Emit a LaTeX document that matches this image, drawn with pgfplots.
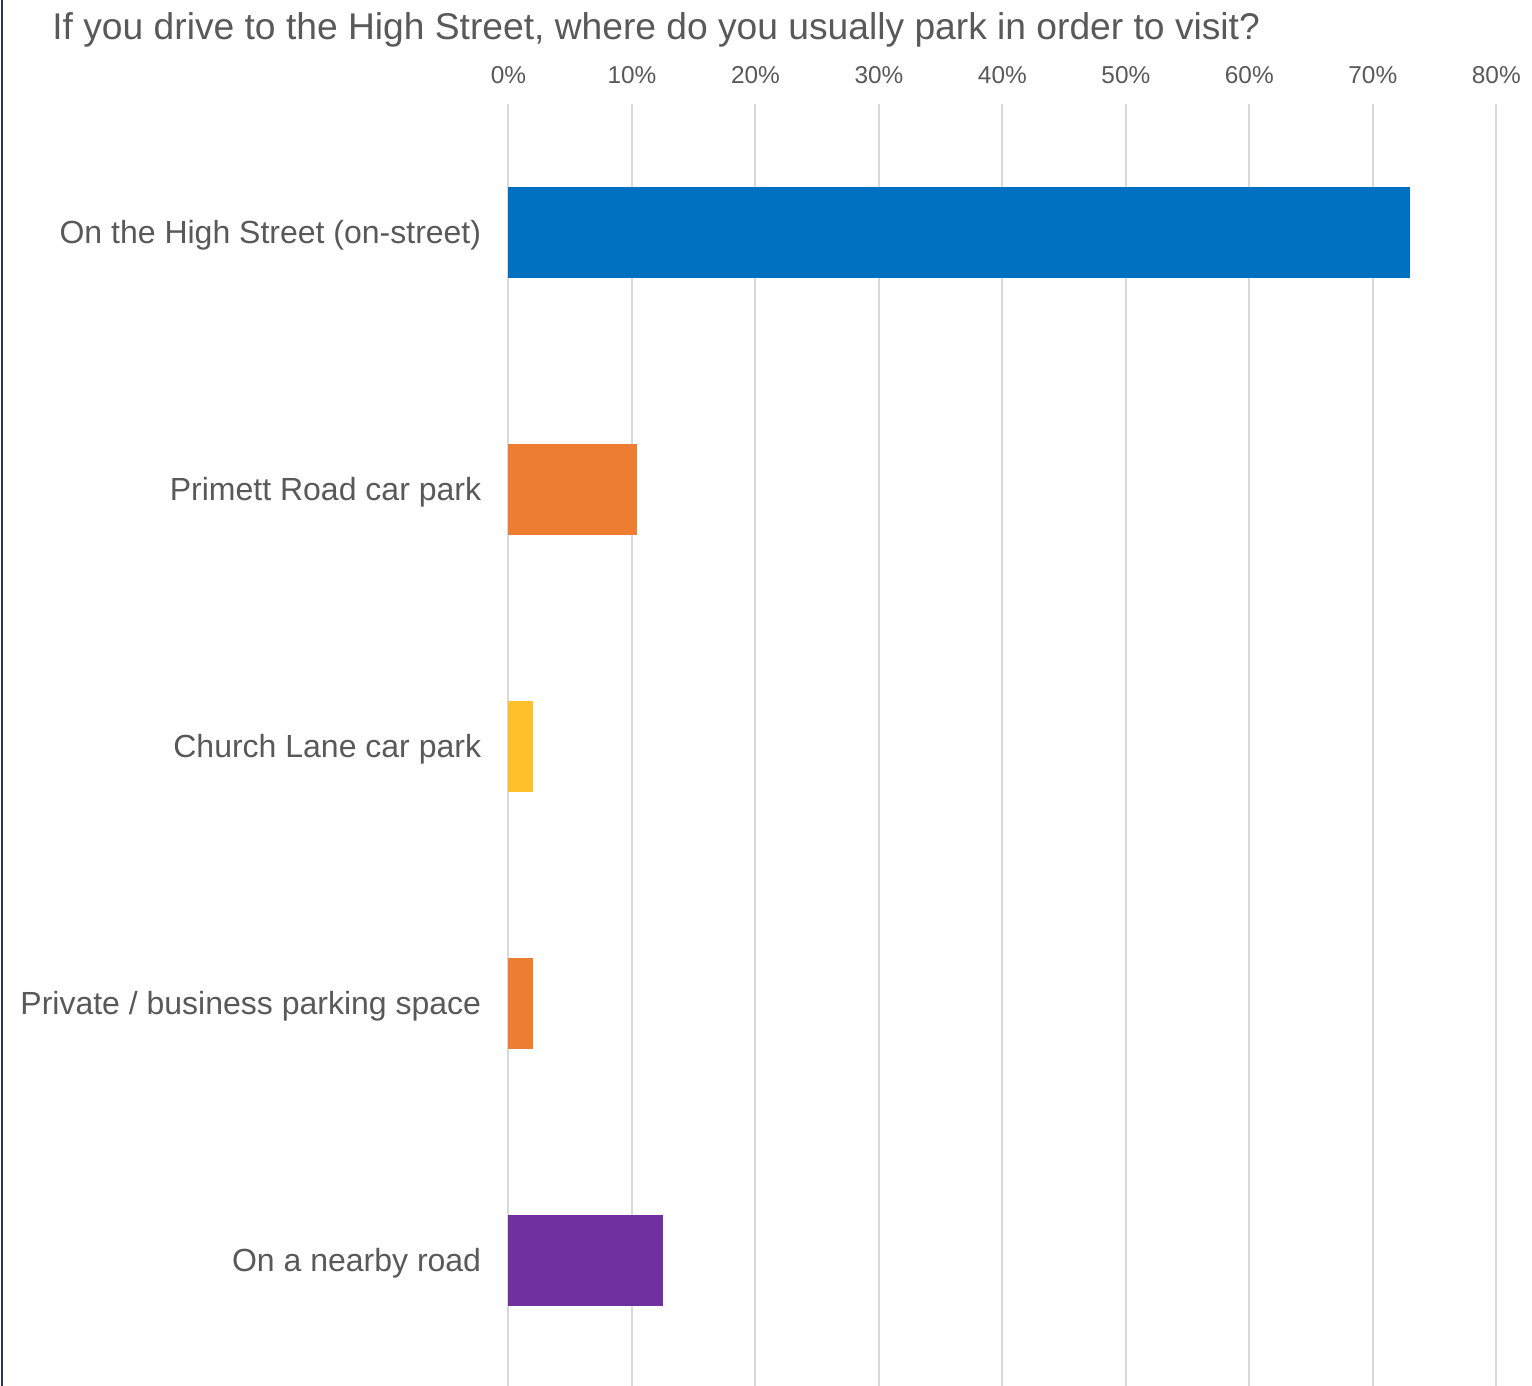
\documentclass[border=0pt]{standalone}
\usepackage{pgfplots}
\pgfplotsset{compat=1.18}
\usepackage{fontspec}
\setmainfont{Liberation Sans}
\definecolor{txt}{HTML}{595959}
\definecolor{gridc}{HTML}{D9D9D9}
\definecolor{frame}{HTML}{2F3650}
\definecolor{cblue}{HTML}{0070C0}
\definecolor{corange}{HTML}{ED7D31}
\definecolor{cyellow}{HTML}{FFC02B}
\definecolor{cpurple}{HTML}{7030A0}
\begin{document}
\begin{tikzpicture}
\useasboundingbox (0pt,0pt) rectangle (766pt,693pt);
\draw[frame, line width=1pt] (1pt,0pt) -- (1pt,693pt);
\node[anchor=base west, inner sep=0pt, text=txt, font=\fontsize{18.6}{20}\selectfont] at (26pt,673pt)
  {If you drive to the High Street, where do you usually park in order to visit?};
\begin{axis}[
  at={(254.25pt,640.9pt)}, anchor=north west,
  scale only axis, width=493.9pt, height=642.5pt,
  xmin=0, xmax=80, ymin=-0.5, ymax=4.5, y dir=reverse,
  xtick={0,10,...,80},
  xticklabel={\pgfmathprintnumber[fixed]{\tick}\%},
  /pgf/number format/assume math mode=true,
  xticklabel pos=upper,
  xticklabel style={font=\fontsize{12.2}{14}\selectfont, text=txt, yshift=6.5pt},
  ytick={0,1,2,3,4},
  yticklabels={On the High Street (on-street),Primett Road car park,Church Lane car park,Private / business parking space,On a nearby road},
  yticklabel style={font=\fontsize{16}{18}\selectfont, text=txt, anchor=east, inner sep=0pt, xshift=-13.5pt, yshift=-1.5pt},
  major tick length=0pt,
  axis line style={draw=none},
  xmajorgrids, major grid style={draw=gridc, line width=1pt},
  clip=false,
]
\addplot[xbar, bar width=45.5pt, bar shift=0pt, fill=cblue, draw=none] coordinates {(73.0,0)};
\addplot[xbar, bar width=45.5pt, bar shift=0pt, fill=corange, draw=none] coordinates {(10.4,1)};
\addplot[xbar, bar width=45.5pt, bar shift=0pt, fill=cyellow, draw=none] coordinates {(2.0,2)};
\addplot[xbar, bar width=45.5pt, bar shift=0pt, fill=corange, draw=none] coordinates {(2.0,3)};
\addplot[xbar, bar width=45.5pt, bar shift=0pt, fill=cpurple, draw=none] coordinates {(12.5,4)};
\end{axis}
\end{tikzpicture}
\end{document}
